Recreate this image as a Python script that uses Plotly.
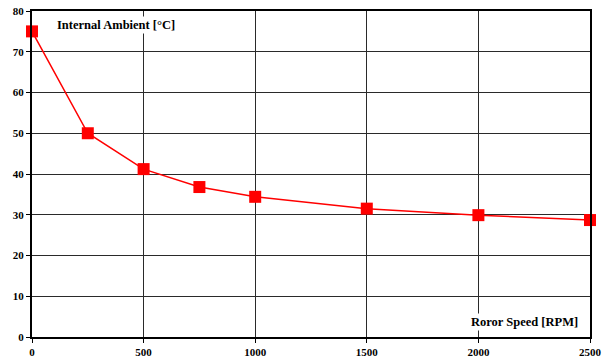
import plotly.graph_objects as go

# Rotor speed [RPM] vs internal ambient temperature [°C]
rotor_speed = [0, 250, 500, 750, 1000, 1500, 2000, 2500]
internal_ambient = [75.0, 50.0, 41.2, 36.8, 34.4, 31.5, 29.9, 28.7]

x_ticks = [0, 500, 1000, 1500, 2000, 2500]
y_ticks = [0, 10, 20, 30, 40, 50, 60, 70, 80]

serif = "Liberation Serif, Times New Roman, serif"

fig = go.Figure()
fig.add_trace(go.Scatter(
    x=rotor_speed,
    y=internal_ambient,
    mode="lines+markers",
    line=dict(color="#ff0000", width=1.5),
    marker=dict(symbol="square", size=12, color="#ff0000"),
    cliponaxis=False,
    showlegend=False,
))

axis_common = dict(
    showgrid=True,
    gridcolor="#2a2a2a",
    gridwidth=1,
    showline=True,
    linecolor="#000000",
    linewidth=2,
    mirror=True,
    ticks="outside",
    ticklen=4,
    tickcolor="#000000",
    zeroline=False,
    automargin=False,
    tickfont=dict(family=serif, size=11, color="#000000", weight="bold"),
)

fig.update_xaxes(range=[0, 2500], tickvals=x_ticks, **axis_common)
fig.update_yaxes(range=[0, 80], tickvals=y_ticks, **axis_common)

fig.add_annotation(
    x=378, y=76.6, xref="x", yref="y",
    text="<b>Internal Ambient [°C]</b>", showarrow=False,
    font=dict(family=serif, size=12.5, color="#000000"),
    bgcolor="#ffffff",
)
fig.add_annotation(
    x=2206, y=3.7, xref="x", yref="y",
    text="<b>Roror Speed [RPM]</b>", showarrow=False,
    font=dict(family=serif, size=12.5, color="#000000"),
    bgcolor="#ffffff",
)

fig.update_layout(
    width=605,
    height=358,
    margin=dict(l=32, r=15, t=11, b=21),
    paper_bgcolor="#ffffff",
    plot_bgcolor="#ffffff",
)

fig.write_html("out.html")
